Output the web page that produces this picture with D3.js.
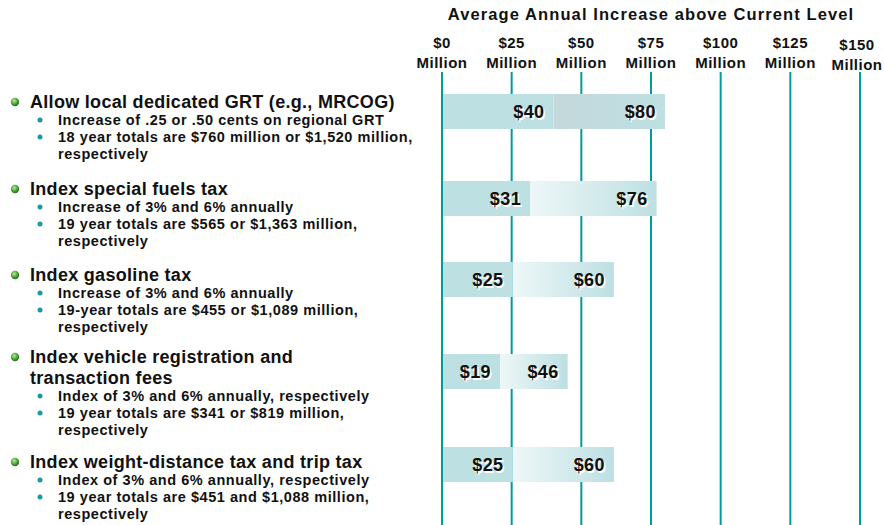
<!DOCTYPE html>
<html>
<head>
<meta charset="utf-8">
<script src="https://cdn.jsdelivr.net/npm/d3@7"></script>
<style>
  body { margin: 0; background: #fff; }
  svg { display: block; font-family: "Liberation Sans", Arial, sans-serif; font-weight: bold; }
</style>
</head>
<body>
<svg id="chart" width="884" height="525"></svg>
<script>
// chart values (bar ends as drawn, labels as printed)
const options = ['grt', 'fuels', 'gasoline', 'vehicle', 'weight'];
const lowValues = [40, 31.6, 25.3, 20.8, 25.3];
const highValues = [80, 77, 61.7, 45.1, 61.7];
const lowLabels = ['$40', '$31', '$25', '$19', '$25'];
const highLabels = ['$80', '$76', '$60', '$46', '$60'];
const tickValues = [0, 25, 50, 75, 100, 125, 150];
const axisTitle = 'Average Annual Increase above Current Level';

const headings = [
    ['Allow local dedicated GRT (e.g., MRCOG)'],
    ['Index special fuels tax'],
    ['Index gasoline tax'],
    ['Index vehicle registration and', 'transaction fees'],
    ['Index weight-distance tax and trip tax']
];
const subBullets = [
    [['Increase of .25 or .50 cents on regional GRT'], ['18 year totals are $760 million or $1,520 million,', 'respectively']],
    [['Increase of 3% and 6% annually'], ['19 year totals are $565 or $1,363 million,', 'respectively']],
    [['Increase of 3% and 6% annually'], ['19-year totals are $455 or $1,089 million,', 'respectively']],
    [['Index of 3% and 6% annually, respectively'], ['19 year totals are $341 or $819 million,', 'respectively']],
    [['Index of 3% and 6% annually, respectively'], ['19 year totals are $451 and $1,088 million,', 'respectively']]
];

const svg = d3.select('#chart');
const x = d3.scaleLinear().domain([0, 150]).range([442, 860]);
const barY = [94, 181, 262, 354, 447];   // top of each bar row
const barH = 35;
const headY = [108, 195, 281, 363, 468]; // baseline of heading

const defs = svg.append('defs');
const fade = defs.append('linearGradient').attr('id', 'fade');
fade.append('stop').attr('offset', '0%').attr('stop-color', '#eef7f7');
fade.append('stop').attr('offset', '100%').attr('stop-color', '#bde0e3');
const fadeGrey = defs.append('linearGradient').attr('id', 'fadeGrey');
fadeGrey.append('stop').attr('offset', '0%').attr('stop-color', '#c5d8db');
fadeGrey.append('stop').attr('offset', '100%').attr('stop-color', '#bde0e3');
const ball = defs.append('radialGradient').attr('id', 'ball')
    .attr('cx', '40%').attr('cy', '35%').attr('r', '65%');
ball.append('stop').attr('offset', '0%').attr('stop-color', '#b8f08a');
ball.append('stop').attr('offset', '60%').attr('stop-color', '#4aa33a');
ball.append('stop').attr('offset', '100%').attr('stop-color', '#2a6a22');

// title and tick labels
svg.append('text')
    .attr('x', 651).attr('y', 20)
    .attr('text-anchor', 'middle')
    .attr('font-size', 16.5)
    .attr('letter-spacing', 1.1)
    .attr('fill', '#111')
    .text(axisTitle);

// last label sits a little lower and is nudged in from the right edge
const ticks = svg.append('g').selectAll('g').data(tickValues).join('g')
    .attr('transform', (d, i) => i === tickValues.length - 1 ? 'translate(-3,2)' : null);
ticks.append('text')
    .attr('x', d => x(d)).attr('y', 48)
    .attr('text-anchor', 'middle').attr('font-size', 15).attr('letter-spacing', 0.5).attr('fill', '#111')
    .text(d => `$${d}`);
ticks.append('text')
    .attr('x', d => x(d)).attr('y', 68)
    .attr('text-anchor', 'middle').attr('font-size', 15).attr('letter-spacing', 0.5).attr('fill', '#111')
    .text('Million');

// grid lines
svg.append('g').selectAll('line').data(tickValues).join('line')
    .attr('x1', d => x(d)).attr('x2', d => x(d))
    .attr('y1', 72).attr('y2', 525)
    .attr('stroke', '#009b9b').attr('stroke-width', 2);

// bars
const bars = svg.append('g').selectAll('g').data(options).join('g');
bars.append('rect')
    .attr('x', (d, i) => x(lowValues[i]))
    .attr('y', (d, i) => barY[i])
    .attr('width', (d, i) => x(highValues[i]) - x(lowValues[i]))
    .attr('height', barH)
    .attr('fill', (d, i) => i === 0 ? 'url(#fadeGrey)' : 'url(#fade)');
bars.append('rect')
    .attr('x', x(0) + 1)
    .attr('y', (d, i) => barY[i])
    .attr('width', (d, i) => x(lowValues[i]) - x(0) - 1)
    .attr('height', barH)
    .attr('fill', '#bde0e3');

function valueLabel(sel, vals, labels) {
    [['#fff', 1.5], ['#111', 0]].forEach(([col, off]) => {
        sel.append('text')
            .attr('x', (d, i) => x(vals[i]) - 9 + off)
            .attr('y', (d, i) => barY[i] + barH / 2 + 6.5 + off)
            .attr('text-anchor', 'end')
            .attr('font-size', 18)
            .attr('letter-spacing', 0.4)
            .attr('fill', col)
            .text((d, i) => labels[i]);
    });
}
valueLabel(bars, lowValues, lowLabels);
valueLabel(bars, highValues, highLabels);

// left bullet text
const groups = svg.append('g').selectAll('g').data(options).join('g');
groups.each(function (d, i) {
    const g = d3.select(this);
    let yy = headY[i];
    g.append('circle').attr('cx', 15).attr('cy', yy - 6).attr('r', 4.2).attr('fill', 'url(#ball)');
    headings[i].forEach((line, k) => {
        g.append('text').attr('x', 30).attr('y', yy)
            .attr('font-size', 18).attr('letter-spacing', 0.3).attr('fill', '#111').text(line);
        if (k < headings[i].length - 1) yy += 21;
    });
    yy += 17;
    subBullets[i].forEach(item => {
        g.append('circle').attr('cx', 40).attr('cy', yy - 5).attr('r', 2.5).attr('fill', '#1a9aa0');
        item.forEach(line => {
            g.append('text').attr('x', 58).attr('y', yy)
                .attr('font-size', 14.5).attr('letter-spacing', 0.55).attr('fill', '#111').text(line);
            yy += 17;
        });
    });
});
</script>
</body>
</html>
